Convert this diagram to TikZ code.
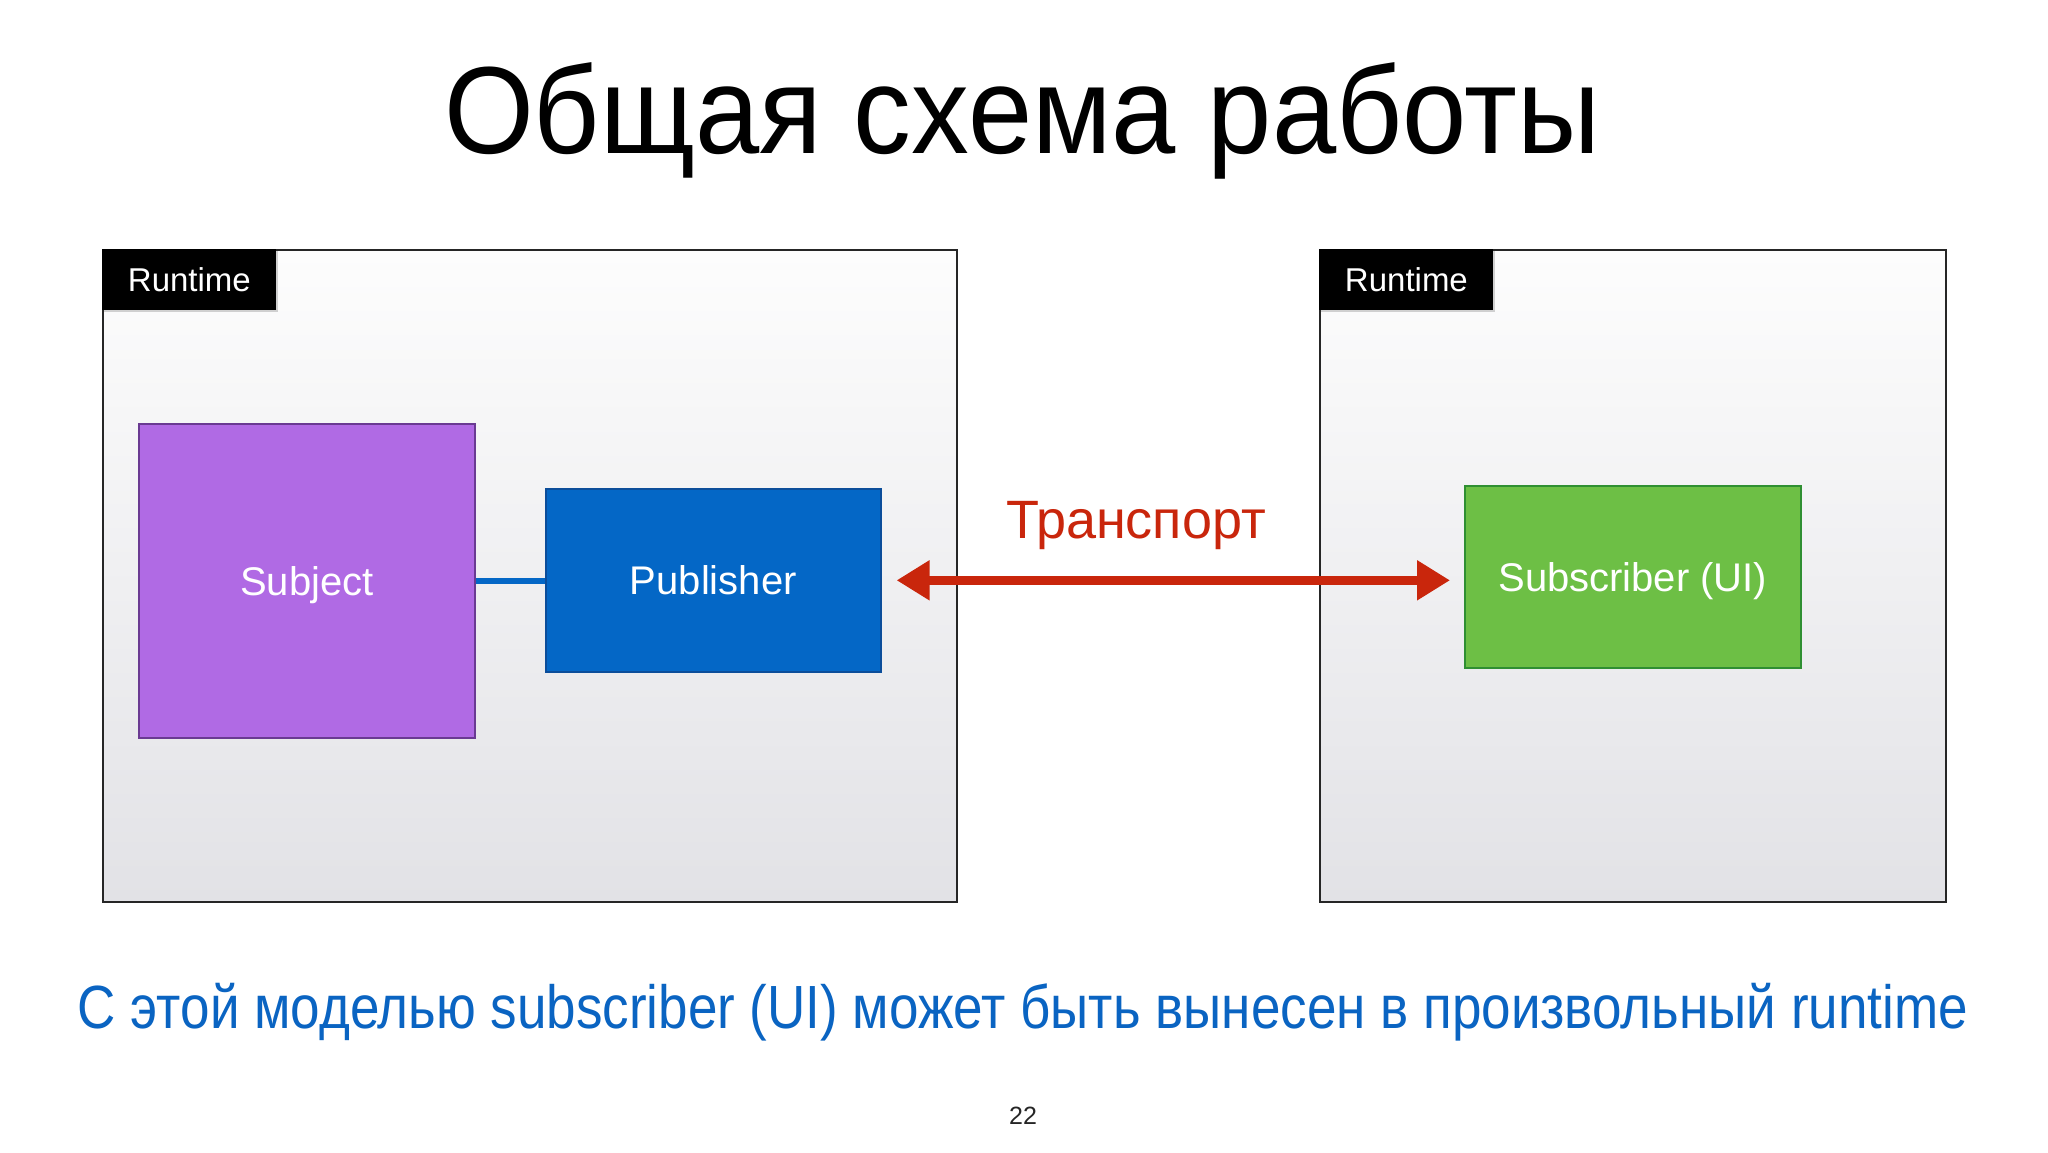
\documentclass[tikz,border=0pt]{standalone}
\usepackage{fontspec}
\setmainfont{Liberation Sans}
\usetikzlibrary{arrows.meta,shadows,calc}
\definecolor{purpfill}{HTML}{B06AE4}
\definecolor{purpline}{HTML}{6A3A92}
\definecolor{bluefill}{HTML}{0467C6}
\definecolor{blueline}{HTML}{0B4D9A}
\definecolor{greenfill}{HTML}{6DBF45}
\definecolor{greenline}{HTML}{2F8F32}
\definecolor{arrowred}{HTML}{C9260C}
\definecolor{textblue}{HTML}{0A64C2}
\definecolor{boxtop}{HTML}{FDFDFD}
\definecolor{boxbot}{HTML}{E2E2E6}
\tikzset{
  runtimebox/.style={draw=black!85, line width=1pt, top color=boxtop, bottom color=boxbot, anchor=north west, inner sep=0pt},
  rtlabel/.style={fill=black, text=white, anchor=north west, inner sep=0pt, minimum width=87pt, minimum height=30.5pt, font=\fontsize{16.5}{18}\selectfont, drop shadow={shadow xshift=1pt, shadow yshift=-1pt, opacity=0.35}},
  comp/.style={anchor=north west, inner sep=0pt, line width=0.8pt, text=white, text height=14.5pt, text depth=0pt, font=\fontsize{20}{24}\selectfont},
  transport/.style={arrowred, line width=4.5pt, {Triangle[length=16.5pt,width=19pt]}-{Triangle[length=16.5pt,width=19pt]}}
}
\begin{document}
\begin{tikzpicture}[x=0.5pt,y=-0.5pt]
\useasboundingbox[fill=white] (0,0) rectangle (2048,1152);
% title
\node[anchor=base, inner sep=0pt, font=\fontsize{62}{70}\selectfont] (title) at (1022,153) {\resizebox{578pt}{\height}{Общая схема работы}};
% left runtime
\node[runtimebox, minimum width=427pt, minimum height=326pt] (rtL) at (102,249) {};
\node[rtlabel] (rtLlab) at (102,249) {Runtime};
\node[comp, fill=purpfill, draw=purpline, minimum width=168pt, minimum height=157pt] (subj) at (138,423) {Subject};
\node[comp, fill=bluefill, draw=blueline, minimum width=167.5pt, minimum height=91.5pt] (pub) at (545,488) {Publisher};
% right runtime
\node[runtimebox, minimum width=313pt, minimum height=326pt] (rtR) at (1319,249) {};
\node[rtlabel] (rtRlab) at (1319,249) {Runtime};
\node[comp, fill=greenfill, draw=greenline, minimum width=168pt, minimum height=91pt] (sub) at (1464,485) {Subscriber (UI)};
% connectors
\draw[bluefill, line width=3pt] (subj.east) -- (subj.east -| pub.west);
\draw[transport] ($(pub.east)+(15,0)$) -- ($(pub.east -| sub.west)+(-14,0)$);
\node[anchor=base, text=arrowred, font=\fontsize{27}{30}\selectfont] (tlabel) at (1136,538) {Транспорт};
% bottom
\node[anchor=base, inner sep=0pt, text=textblue, font=\fontsize{30.5}{36}\selectfont] (caption) at (1023,1028) {\resizebox{945pt}{\height}{С этой моделью subscriber (UI) может быть вынесен в произвольный runtime}};
\node[font=\fontsize{12.5}{14}\selectfont, text=black!85] (pnum) at (1023,1116) {22};
\end{tikzpicture}
\end{document}
